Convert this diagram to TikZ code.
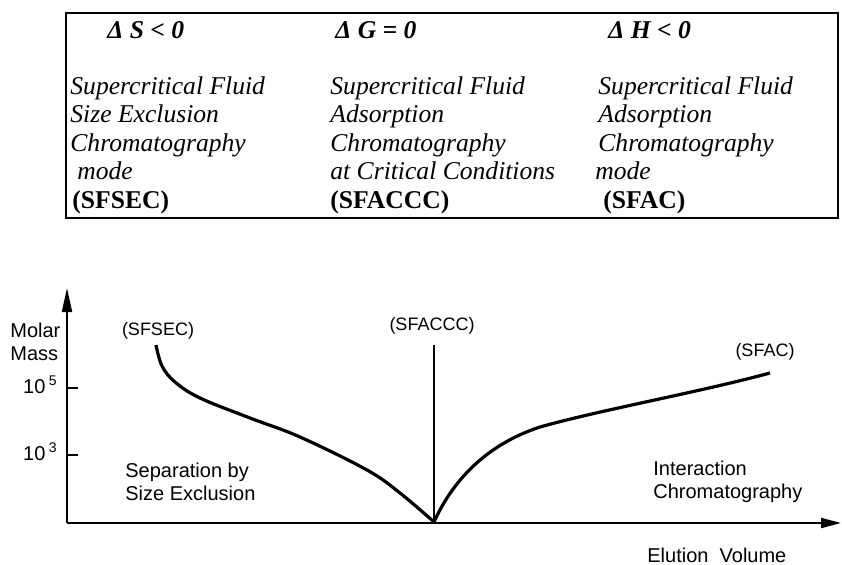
\documentclass[tikz,border=0pt]{standalone}
\usepackage{fontspec}
\setmainfont{Liberation Serif}
\setsansfont{Liberation Sans}
\usetikzlibrary{arrows.meta}

\begin{document}
\begin{tikzpicture}[x=0.5pt, y=-0.5pt,
    deltatext/.style={anchor=base west, inner sep=0pt, font=\bfseries\itshape\fontsize{12.8}{14.2}\selectfont},
    boxtext/.style={anchor=base west, align=left, inner sep=0pt, font=\itshape\fontsize{12.8}{14.2}\selectfont},
    plottext/.style={anchor=base west, align=left, inner sep=0pt, font=\sffamily\fontsize{10}{11.2}\selectfont},
    modelabel/.style={anchor=base, inner sep=0pt, font=\sffamily\fontsize{9}{11}\selectfont},
    axis/.style={line width=1pt},
    curve/.style={line width=1.6pt, line join=round}]
  \useasboundingbox (0,0) rectangle (842,564);

  % --- table of the three modes ---
  \draw[line width=1pt] (66,13) rectangle (838,218);
  \node[deltatext] (dS) at (107,38) {Δ S < 0};
  \node[deltatext] (dG) at (335,38) {Δ G = 0};
  \node[deltatext] (dH) at (608,38) {Δ H < 0};

  % last line of each column sits on y = 208
  \node[boxtext] (sfsecbox) at (70,208) {Supercritical Fluid\\Size Exclusion\\Chromatography\\\hspace*{3.5pt}mode\\\hspace*{1pt}{\upshape\bfseries (SFSEC)}};
  \node[boxtext] (sfacccbox) at (330,208) {Supercritical Fluid\\Adsorption\\Chromatography\\at Critical Conditions\\{\upshape\bfseries (SFACCC)}};
  \node[boxtext] (sfacbox) at (598,208) {Supercritical Fluid\\Adsorption\\Chromatography\\\hspace*{-1.5pt}mode\\\hspace*{2.5pt}{\upshape\bfseries (SFAC)}};

  % --- elution diagram ---
  \coordinate (O) at (67,523);
  \coordinate (ytop) at (67,288);
  \coordinate (xend) at (841,523);
  \draw[axis, -{Triangle[length=12pt, width=5pt]}] (O) -- (ytop);
  \draw[axis, -{Triangle[length=10pt, width=5pt]}] (O) -- (xend);
  \draw[axis] (67,388) -- (78,388);
  \draw[axis] (67,455) -- (78,455);

  \node[plottext] (molar) at (10,360) {Molar\\Mass};
  \node[plottext, anchor=base east] (e5) at (58,393) {10\,\textsuperscript{5}};
  \node[plottext, anchor=base east] (e3) at (58,460) {10\,\textsuperscript{3}};

  \coordinate (minpt) at (434,522);
  \coordinate (ccctop) at (434,345);
  \draw[curve] plot[smooth, tension=0.6] coordinates {(156,345) (162,366) (175,382) (200,398) (250,418) (300,437) (367,470) (400,493) (minpt)};
  \draw[curve] (minpt) .. controls (452,482) and (485,445) .. (540,427)
                      .. controls (600,410) and (700,392) .. (770,373);
  \draw[axis] (ccctop) -- (minpt);

  \node[modelabel] (sfsec) at (158,335) {(SFSEC)};
  \node[modelabel] (sfaccc) at (432,330) {(SFACCC)};
  \node[modelabel] (sfac) at (765,356) {(SFAC)};

  \node[plottext] (sizeexcl) at (125,500) {Separation by\\Size Exclusion};
  \node[plottext] (interact) at (653,498) {Interaction\\Chromatography};
  \node[plottext] (elution) at (647,562) {Elution\ \ Volume};
\end{tikzpicture}
\end{document}
